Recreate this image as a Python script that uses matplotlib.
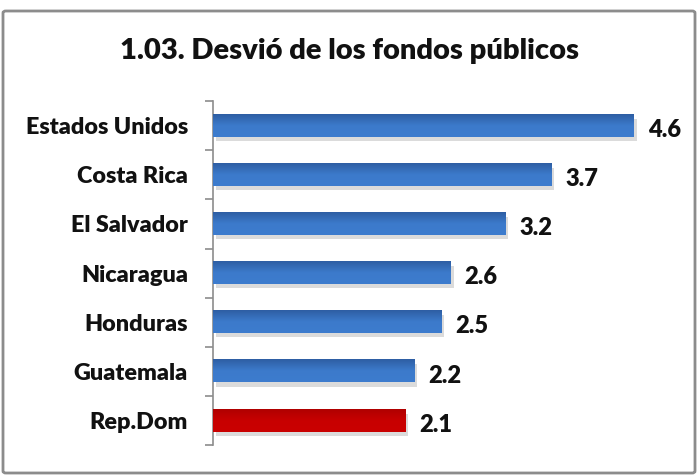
import numpy as np
import matplotlib.pyplot as plt
import matplotlib.patheffects as pe
from matplotlib.patches import FancyBboxPatch

# data
countries = ["Estados Unidos", "Costa Rica", "El Salvador", "Nicaragua",
             "Honduras", "Guatemala", "Rep.Dom"]
values = [4.6, 3.7, 3.2, 2.6, 2.5, 2.2, 2.1]
highlight = "Rep.Dom"

plt.rcParams["font.family"] = ["Lato", "DejaVu Sans"]

fig = plt.figure(figsize=(6.98, 4.75), dpi=100)
ax = fig.add_axes([0.305, 0.063, 0.6555, 0.724])

# outer frame of the chart
frame = FancyBboxPatch((3 / 698, 2 / 475), 692 / 698, 462 / 475,
                       boxstyle="round,pad=0,rounding_size=0.004",
                       transform=fig.transFigure, facecolor="none",
                       edgecolor="#8c8c8c", linewidth=2)
fig.patches.append(frame)

y = np.arange(len(countries))
bar_h = 0.45

blue_grad = np.array([[0x2e, 0x5e, 0xa3], [0x3c, 0x7a, 0xcb], [0x3d, 0x7c, 0xce]]) / 255
red_grad = np.array([[0xb0, 0x00, 0x00], [0xc8, 0x00, 0x00], [0xca, 0x00, 0x00]]) / 255

bars = ax.barh(y, values, height=bar_h, color="none", edgecolor="none")
for bar, name, val in zip(bars, countries, values):
    cols = red_grad if name == highlight else blue_grad
    x0, y0 = bar.get_x(), bar.get_y()
    w, h = bar.get_width(), bar.get_height()
    # shadow
    ax.barh(y0 + h / 2, w, height=h, color="#000000", alpha=0.0,
            path_effects=[pe.SimplePatchShadow(offset=(2, -3), shadow_rgbFace="#9a9a9a", alpha=0.35)])
    # vertical gradient, lighter at top
    t = np.linspace(0, 1, 50)[:, None]
    grad = np.where(t < 0.5,
                    cols[0] + (cols[1] - cols[0]) * (t / 0.5),
                    cols[1] + (cols[2] - cols[1]) * ((t - 0.5) / 0.5))
    img = np.repeat(grad[:, None, :], 2, axis=1)
    ax.imshow(img, extent=(x0, x0 + w, y0, y0 + h), origin="lower",
              aspect="auto", zorder=3, interpolation="bilinear")
    ax.annotate(f"{val:.1f}", (x0 + w, y0 + h / 2), xytext=(10, -3),
                textcoords="offset points", va="center", ha="left",
                fontsize=17, fontweight="heavy", color="#111111")

ax.set_xlim(0, 5)
ax.set_ylim(len(countries) - 0.5, -0.5)

ax.set_yticks(y)
ax.set_yticklabels(countries, fontsize=16.8, fontweight="heavy", color="#111111")
ax.tick_params(axis="y", which="major", length=0, pad=18)
ax.set_yticks(np.arange(-0.5, len(countries)), minor=True)
ax.tick_params(axis="y", which="minor", length=6, width=1.2, color="#8c8c8c", direction="out")
ax.set_xticks([])

for side in ["top", "right", "bottom"]:
    ax.spines[side].set_visible(False)
ax.spines["left"].set_color("#8c8c8c")
ax.spines["left"].set_linewidth(1.2)

fig.text(0.5, 0.892, "1.03. Desvió de los fondos públicos", ha="center", va="center",
         fontsize=21, fontweight="heavy", color="#111111")

fig.savefig("out.png", dpi=100)
